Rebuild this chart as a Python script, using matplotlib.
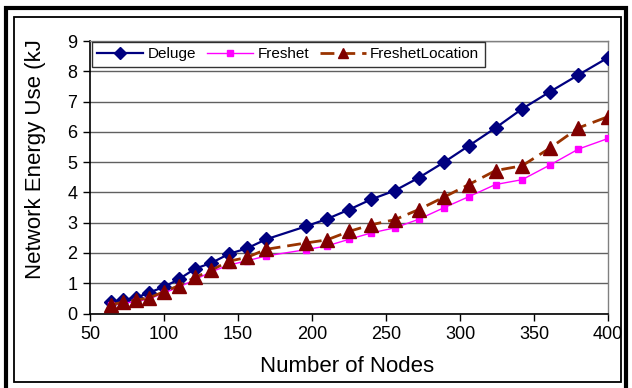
import numpy as np
import matplotlib
matplotlib.use('Agg')
import matplotlib.pyplot as plt
from matplotlib.patches import Rectangle
from matplotlib.transforms import Bbox

plt.rcParams['font.family'] = ['Liberation Sans', 'DejaVu Sans']

# Network sizes (number of nodes)
nodes = [64, 72, 81, 90, 100, 110, 121, 132, 144, 156, 169, 196, 210,
         225, 240, 256, 272, 289, 306, 324, 342, 361, 380, 400]

# Energy use per protocol (kJ)
deluge = [0.37, 0.44, 0.52, 0.69, 0.88, 1.13, 1.48, 1.67, 1.97, 2.15, 2.45, 2.88, 3.12,
          3.43, 3.77, 4.06, 4.48, 4.99, 5.54, 6.13, 6.76, 7.33, 7.88, 8.45]
freshet = [0.27, 0.33, 0.40, 0.48, 0.68, 0.87, 1.12, 1.38, 1.60, 1.74, 1.90, 2.11, 2.23,
           2.45, 2.66, 2.83, 3.11, 3.49, 3.86, 4.26, 4.42, 4.91, 5.43, 5.78]
freshet_loc = [0.29, 0.37, 0.44, 0.52, 0.72, 0.92, 1.19, 1.43, 1.73, 1.85, 2.12, 2.33, 2.43,
               2.71, 2.93, 3.10, 3.43, 3.84, 4.26, 4.72, 4.88, 5.47, 6.13, 6.50]

xticks = [50, 100, 150, 200, 250, 300, 350, 400]
yticks = list(range(0, 10))

W, H = 632, 388
fig = plt.figure(figsize=(W / 100, H / 100), dpi=100)
ax = fig.add_axes([90 / W, 1 - 313.5 / H, (608 - 90) / W, (313.5 - 41) / H])

ax.plot(nodes, deluge, color='#000080', lw=1.6, marker='D', ms=7.5,
        label='Deluge', zorder=3)
ax.plot(nodes, freshet, color='#FF00FF', lw=1.0, marker='s', ms=5,
        label='Freshet', zorder=4)
ax.plot(nodes, freshet_loc, color='#993300', lw=2.0, dashes=(5, 2.5),
        marker='^', ms=9.5, mfc='#800000', mec='#800000',
        label='FreshetLocation', zorder=5)

ax.set_xlim(50, 400)
ax.set_ylim(0, 9)
ax.set_xticks(xticks)
ax.set_yticks(yticks)
ax.tick_params(axis='both', direction='out', length=5, width=1,
               labelsize=13, color='black', pad=4)
ax.yaxis.grid(True, color='#606060', lw=1)
ax.set_axisbelow(True)
for side in ['left', 'bottom']:
    ax.spines[side].set_color('black')
    ax.spines[side].set_linewidth(1.2)
for side in ['top', 'right']:
    ax.spines[side].set_color('#808080')
    ax.spines[side].set_linewidth(1)

leg = ax.legend(loc='upper left', bbox_to_anchor=(0.004, 0.997), ncol=3,
                fontsize=11, frameon=True, fancybox=False, borderaxespad=0,
                borderpad=0.35, handlelength=3.0, handletextpad=0.3,
                columnspacing=0.7, markerscale=0.75)
leg.get_frame().set_edgecolor('black')
leg.get_frame().set_linewidth(1)
leg.set_zorder(10)

# axis titles
fig.text(347 / W, 1 - 366 / H, 'Number of Nodes', fontsize=16,
         ha='center', va='center')
ylab = fig.text(36 / W, 1 - 279 / H, 'Network Energy Use (kJ)', fontsize=16,
                rotation=90, ha='center', va='bottom')
ylab.set_clip_box(Bbox([[0, 0], [W, H - 40]]))
ylab.set_clip_on(True)

# double border around the chart
fig.patches.append(Rectangle((6 / W, -0.1), (626 - 6) / W, 1.1 - 8 / H,
                             transform=fig.transFigure, fill=False,
                             ec='black', lw=3, zorder=0))
fig.patches.append(Rectangle((14 / W, 1 - 382 / H), (621 - 14) / W, (382 - 17) / H,
                             transform=fig.transFigure, fill=False,
                             ec='black', lw=1.3, zorder=0))

fig.savefig('out.png', dpi=100)
